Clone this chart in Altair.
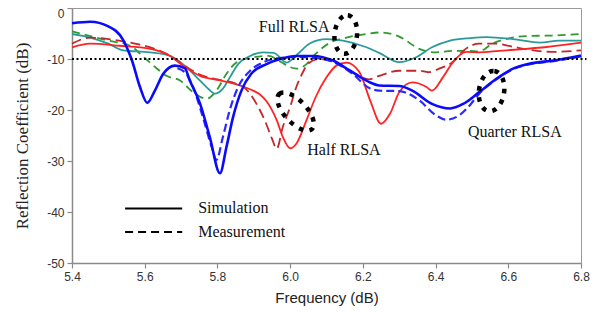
import altair as alt
import pandas as pd

# ---------------- data ----------------
q_sim_f = [5.40, 5.45, 5.50, 5.54, 5.565, 5.587, 5.607, 5.628, 5.651, 5.683, 5.71, 5.724, 5.752, 5.779,
           5.807, 5.825, 5.843, 5.866, 5.893, 5.935, 5.972, 6.018, 6.063, 6.118, 6.165, 6.22, 6.245,
           6.30, 6.336, 6.39, 6.44, 6.476, 6.52, 6.567, 6.613, 6.66, 6.725, 6.80]
q_sim_db = [-3.0, -2.7, -3.6, -6.2, -10.3, -15.5, -18.6, -16.2, -12.9, -11.3, -11.8, -14.2, -18.7, -25.3,
            -32.4, -27.2, -21.4, -16.2, -12.9, -11.0, -10.0, -9.4, -9.4, -10.3, -12.3, -14.6, -15.2,
            -15.3, -16.2, -18.8, -19.7, -18.8, -16.5, -13.9, -11.9, -10.9, -10.3, -9.3]

q_meas_f = [5.69, 5.715, 5.733, 5.76, 5.784, 5.797, 5.815, 5.834, 5.857, 5.89, 5.925, 5.97, 6.02, 6.07,
            6.12, 6.17, 6.22, 6.245, 6.30, 6.355, 6.40, 6.43, 6.466, 6.495, 6.52, 6.567, 6.613, 6.66,
            6.725, 6.80]
q_meas_db = [-11.8, -13.0, -15.5, -21.4, -27.2, -29.8, -25.3, -20.0, -15.5, -12.3, -10.7, -9.8, -9.6, -9.8,
             -10.6, -12.8, -15.8, -16.2, -16.3, -18.1, -21.0, -21.9, -21.0, -19.0, -16.8, -14.0, -12.0, -11.0,
             -10.4, -9.5]

h_sim_f = [5.40, 5.45, 5.53, 5.615, 5.67, 5.705, 5.752, 5.807, 5.862, 5.898, 5.916, 5.935, 5.963, 5.98,
           6.00, 6.018, 6.045, 6.07, 6.10, 6.127, 6.155, 6.19, 6.22, 6.25, 6.275, 6.30, 6.336, 6.375,
           6.39, 6.42, 6.447, 6.484, 6.52, 6.575, 6.65, 6.70, 6.80]
h_sim_db = [-7.7, -7.0, -7.4, -8.0, -9.4, -11.3, -13.3, -14.2, -15.2, -16.2, -16.9, -18.3, -22.0, -25.3,
            -27.5, -26.5, -22.0, -17.5, -13.6, -11.3, -10.7, -12.5, -18.1, -22.7, -20.7, -16.5, -14.6, -15.5,
            -16.2, -13.6, -10.7, -8.6, -8.7, -8.4, -8.0, -7.7, -6.8]

h_meas_f = [5.40, 5.45, 5.50, 5.56, 5.615, 5.66, 5.697, 5.75, 5.80, 5.85, 5.88, 5.905, 5.93, 5.95, 5.963,
            5.98, 6.00, 6.017, 6.035, 6.048, 6.08, 6.12, 6.17, 6.217, 6.245, 6.30, 6.355, 6.38, 6.41,
            6.447, 6.476, 6.52, 6.567, 6.613, 6.66, 6.72, 6.80]
h_meas_db = [-7.0, -5.8, -6.1, -6.8, -7.7, -9.0, -10.7, -13.0, -14.0, -14.8, -16.0, -18.5, -22.0, -25.6, -27.6,
             -23.3, -19.4, -15.5, -12.6, -11.0, -10.0, -10.6, -12.5, -14.0, -13.3, -12.3, -12.3, -12.6, -11.9,
             -10.6, -8.4, -7.0, -7.0, -7.6, -8.2, -8.6, -8.3]

f_sim_f = [5.40, 5.45, 5.50, 5.54, 5.615, 5.67, 5.705, 5.743, 5.77, 5.793, 5.815, 5.834, 5.857, 5.89,
           5.925, 5.955, 5.99, 6.018, 6.055, 6.10, 6.145, 6.21, 6.245, 6.30, 6.345, 6.39, 6.44, 6.495,
           6.54, 6.613, 6.687, 6.74, 6.80]
f_sim_db = [-5.1, -5.8, -7.0, -8.3, -8.7, -9.4, -11.0, -13.6, -15.5, -16.8, -15.8, -13.6, -11.0, -9.4,
            -8.7, -8.8, -10.7, -9.2, -6.9, -6.1, -6.4, -7.7, -8.8, -10.6, -9.7, -7.7, -6.4, -5.9,
            -5.7, -6.1, -6.8, -6.4, -6.4]

f_meas_f = [5.40, 5.45, 5.50, 5.56, 5.60, 5.624, 5.66, 5.697, 5.733, 5.77, 5.797, 5.825, 5.852, 5.89,
            5.94, 5.975, 6.00, 6.018, 6.045, 6.07, 6.11, 6.155, 6.21, 6.245, 6.30, 6.355, 6.40, 6.447,
            6.49, 6.52, 6.556, 6.594, 6.65, 6.72, 6.80]
f_meas_db = [-4.6, -5.5, -6.4, -7.4, -9.8, -11.3, -13.3, -14.2, -16.5, -17.8, -16.2, -12.9, -10.7, -9.8,
             -9.4, -10.6, -11.6, -11.9, -11.0, -9.0, -6.8, -5.8, -5.1, -4.8, -5.6, -8.0, -8.7, -8.4,
             -8.4, -8.5, -7.0, -6.1, -5.5, -5.4, -5.1]

x_ticks = [5.4, 5.6, 5.8, 6.0, 6.2, 6.4, 6.6, 6.8]
y_ticks = [0, -10, -20, -30, -40, -50]

ref_f = [5.4, 6.815]
ref_db = -10

labels_text = ["Full RLSA", "Half RLSA", "Quarter RLSA"]
labels_f = [6.011, 6.148, 6.618]
labels_db = [-3.7, -27.8, -24.3]

# dotted ellipses: centre, angle, size, aspect
ellipse_f = [6.153, 6.015, 6.554]
ellipse_db = [-5.2, -20.3, -16.3]
ellipse_angle = [6, 317, 8]
ellipse_size = [1500, 2300, 1650]
ellipse_aspect = [0.58, 0.46, 0.62]

legend_text = ["Simulation", "Measurement"]
legend_f1 = 5.546
legend_f2 = 5.703
legend_ftext = 5.747
legend_db = [-39.3, -43.9]

# ---------------- chart ----------------
xs = alt.Scale(domain=[5.4, 6.8], nice=False, zero=False)
ys = alt.Scale(domain=[-50, 0], nice=False)

SANS = "Liberation Sans"
SERIF = "Liberation Serif"

series = [
    (f_meas_f, f_meas_db, "#2f9a2f", [8, 5], 1.8),
    (f_sim_f, f_sim_db, "#2a9a9a", None, 1.8),
    (h_meas_f, h_meas_db, "#c0282c", [10, 5], 1.8),
    (h_sim_f, h_sim_db, "#ff2424", None, 1.8),
    (q_meas_f, q_meas_db, "#2a2aff", [8, 4], 2.2),
    (q_sim_f, q_sim_db, "#0a0aff", None, 2.6),
]

layers = []
first = True
for fs, dbs, col, dash, w in series:
    df = pd.DataFrame({"f": fs, "db": dbs})
    kw = dict(color=col, strokeWidth=w, interpolate="monotone")
    if dash:
        kw["strokeDash"] = dash
    if first:
        enc_x = alt.X("f:Q", scale=xs, title="Frequency (dB)",
                      axis=alt.Axis(values=x_ticks, format=".1f", labelFlush=False))
        enc_y = alt.Y("db:Q", scale=ys, title="Reflection Coefficient (dB)",
                      axis=alt.Axis(values=y_ticks, labelExpr="'' + datum.value", labelFlush=False,
                                    labelBaseline=alt.condition("datum.value == 0", alt.value("top"),
                                                                alt.value("middle"))))
        first = False
    else:
        enc_x = alt.X("f:Q", scale=xs)
        enc_y = alt.Y("db:Q", scale=ys)
    layers.append(alt.Chart(df).mark_line(**kw).encode(x=enc_x, y=enc_y))

ref_df = pd.DataFrame({"f": [ref_f[0]], "f2": [ref_f[1]], "db": [ref_db]})
ref = alt.Chart(ref_df).mark_rule(color="black", strokeWidth=2, strokeDash=[2, 2.5], clip=False).encode(
    x=alt.X("f:Q", scale=xs), x2="f2:Q", y=alt.Y("db:Q", scale=ys))

lab_df = pd.DataFrame({"t": labels_text, "f": labels_f, "db": labels_db})
labs = alt.Chart(lab_df).mark_text(font=SERIF, fontSize=16, color="#111", align="center",
                                   baseline="middle").encode(
    x=alt.X("f:Q", scale=xs), y=alt.Y("db:Q", scale=ys), text="t:N")

ells = []
for ef, edb, ea, es, asp in zip(ellipse_f, ellipse_db, ellipse_angle, ellipse_size, ellipse_aspect):
    path = f"M0,-1A{asp},1 0 1,1 0,1A{asp},1 0 1,1 0,-1Z"
    ells.append(
        alt.Chart(pd.DataFrame({"f": [ef], "db": [edb]})).mark_point(
            shape=path, size=es, angle=ea, filled=False, color="black",
            strokeWidth=4.5, strokeDash=[4.5, 6.5], opacity=1).encode(
            x=alt.X("f:Q", scale=xs), y=alt.Y("db:Q", scale=ys))
    )

leg_solid = alt.Chart(pd.DataFrame({"f": [legend_f1], "f2": [legend_f2], "db": [legend_db[0]]})).mark_rule(
    color="black", strokeWidth=2).encode(x=alt.X("f:Q", scale=xs), x2="f2:Q", y=alt.Y("db:Q", scale=ys))
leg_dash = alt.Chart(pd.DataFrame({"f": [legend_f1], "f2": [legend_f2], "db": [legend_db[1]]})).mark_rule(
    color="black", strokeWidth=2, strokeDash=[8, 5]).encode(
    x=alt.X("f:Q", scale=xs), x2="f2:Q", y=alt.Y("db:Q", scale=ys))
leg_txt = alt.Chart(pd.DataFrame({"t": legend_text, "f": [legend_ftext] * 2, "db": legend_db})).mark_text(
    font=SERIF, fontSize=16, color="#111", align="left", baseline="middle").encode(
    x=alt.X("f:Q", scale=xs), y=alt.Y("db:Q", scale=ys), text="t:N")

chart = alt.layer(*layers, ref, labs, *ells, leg_solid, leg_dash, leg_txt).properties(
    width=509, height=255,
    autosize=alt.AutoSizeParams(type="none"),
    padding={"left": 64, "top": 0, "right": 17, "bottom": 43},
).configure_view(stroke="#999999", strokeWidth=1).configure_axis(
    grid=False, domainColor="#8a8a8a", domainWidth=1.5, tickColor="#8a8a8a", tickSize=5, tickWidth=1.2,
    labelFont=SANS, labelFontSize=12, labelColor="#333333", titleFont=SANS, titleColor="#222222",
).configure_axisX(
    labelPadding=3, titleFontSize=15, titleFontWeight="normal", titlePadding=8,
).configure_axisY(
    labelPadding=3, titleFont=SERIF, titleFontSize=17, titleFontWeight="normal", titleX=-50,
    titleBaseline="middle",
)

chart.save("out.html", embed_options={"renderer": "svg", "actions": False})
